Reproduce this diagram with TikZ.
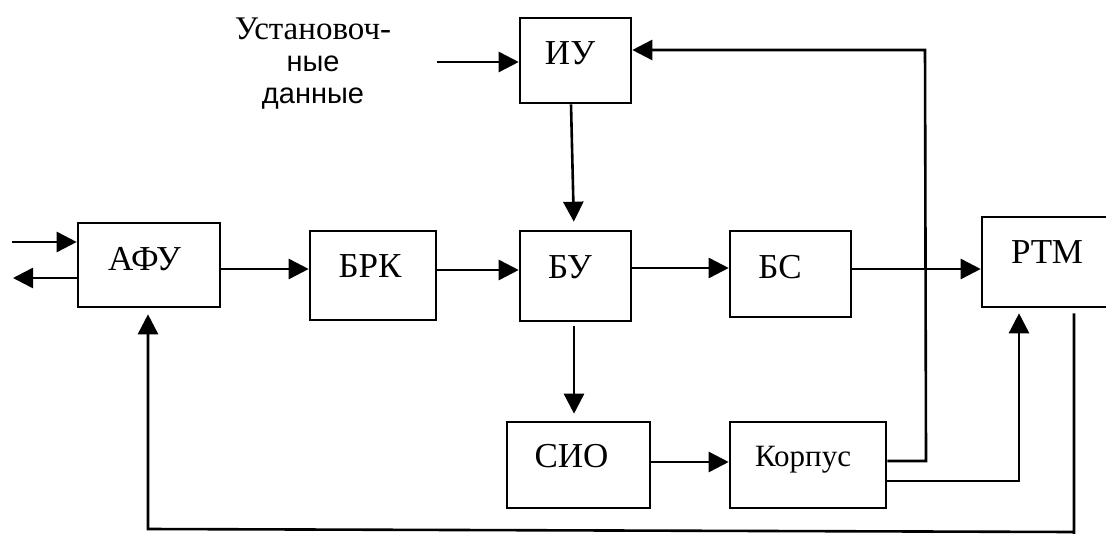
\documentclass[tikz,border=0pt]{standalone}
\usepackage{fontspec}
\setmainfont{Liberation Serif}
\newfontfamily\sansru{Liberation Sans}
\usetikzlibrary{arrows.meta}
\begin{document}
\begin{tikzpicture}[x=0.5pt,y=-0.5pt,
 box/.style={draw, line width=1.3pt, rectangle, inner sep=0pt},
 lbl/.style={inner sep=0pt, anchor=base, font=\fontsize{17.5}{20}\selectfont},
 small/.style={inner sep=0pt, anchor=base, font=\fontsize{15.5}{18}\selectfont},
 ln/.style={line width=1.3pt},
 arr/.style={line width=1.3pt, -{Triangle[length=10pt,width=10pt]}}]
\clip (0,0) rectangle (1106,534);
% boxes
\node[box, minimum width=55.5pt, minimum height=42.5pt] (iu) at (575.5,60.5) {};
\node[box, minimum width=71pt, minimum height=42pt] (afu) at (149,265) {};
\node[box, minimum width=63pt, minimum height=44.5pt] (brk) at (373,275.5) {};
\node[box, minimum width=55.5pt, minimum height=45pt] (bu) at (575.5,276) {};
\node[box, minimum width=60.5pt, minimum height=43pt] (bs) at (790.5,274) {};
\node[box, minimum width=74pt, minimum height=45pt] (rtm) at (1056,262) {};
\node[box, minimum width=71.5pt, minimum height=43pt] (sio) at (578.5,465) {};
\node[box, minimum width=78pt, minimum height=43pt] (korp) at (808,465) {};
% labels
\node[lbl] (iu-t) at (570,65) {ИУ};
\node[lbl] (afu-t) at (144.5,270) {АФУ};
\node[lbl] (brk-t) at (370,277) {БРК};
\node[lbl] (bu-t) at (570,278) {БУ};
\node[lbl] (bs-t) at (780,278) {БС};
\node[lbl] (rtm-t) at (1047,263) {РТМ};
\node[lbl] (sio-t) at (571.5,467) {СИО};
\node[small] (korp-t) at (803,466) {Корпус};
\node[inner sep=0pt, anchor=base, font=\rmfamily\fontsize{16.5}{18}\selectfont] (ud1) at (313,40) {Установоч-};
\node[inner sep=0pt, anchor=base, font=\sansru\fontsize{14.5}{18}\selectfont] (ud2) at (313,72) {ные};
\node[inner sep=0pt, anchor=base, font=\sansru\fontsize{14.5}{18}\selectfont] (ud3) at (313,104) {данные};
% free ends
\coordinate (in1) at (12,242);
\coordinate (out1) at (13,278);
\coordinate (udin) at (437,62);
\coordinate (fbtop) at (925,50);
\coordinate (fbbot) at (926,461);
\coordinate (k2) at (1019,481);
\coordinate (r1) at (1074,532);
\coordinate (a1) at (148,529);
% connectors
\draw[arr] (in1) -- (afu.west |- in1);
\draw[arr] (afu.west |- out1) -- (out1);
\draw[arr] (afu.east |- 0,269) -- (brk.west |- 0,269);
\draw[arr] (brk.east |- 0,270) -- (bu.west |- 0,270);
\draw[arr] (bu.east |- 0,268) -- (bs.west |- 0,268);
\draw[arr] (bs.east |- 0,269) -- (rtm.west |- 0,269);
\draw[arr] (udin) -- (iu.west |- udin);
\draw[arr, shorten >=4pt] (571,0 |- iu.south) -- (574,0 |- bu.north);
\draw[arr, shorten <=2pt, shorten >=3.5pt] (574,0 |- bu.south) -- (574,0 |- sio.north);
\draw[arr] (sio.east |- 0,462) -- (korp.west |- 0,462);
\draw[arr] (korp.east |- fbbot) -- (fbbot) -- (fbtop) -- (iu.east |- fbtop);
\draw[arr, shorten >=2.5pt] (korp.east |- k2) -- (k2) -- (k2 |- rtm.south);
\draw[arr, shorten <=2.5pt, shorten >=3pt] (r1 |- rtm.south) -- (1074,534) -- (r1) -- (a1) -- (a1 |- afu.south);
\end{tikzpicture}
\end{document}
